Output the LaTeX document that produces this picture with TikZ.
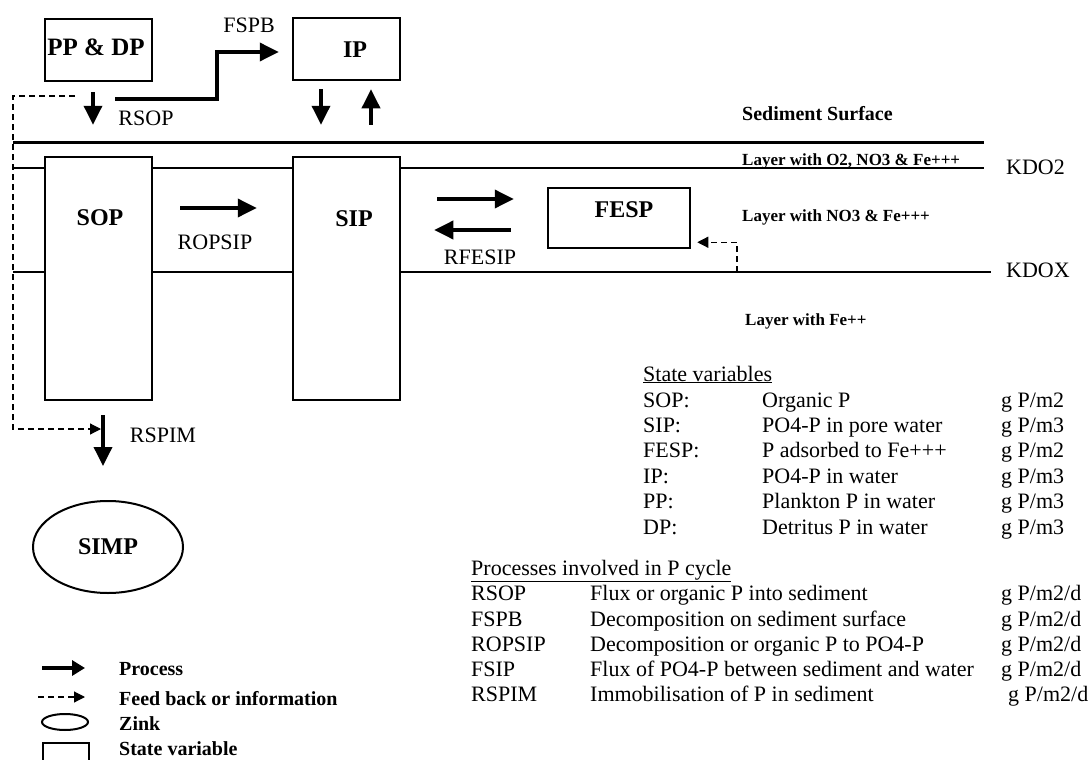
\documentclass[tikz,border=0pt]{standalone}
\usepackage{fontspec}
\setmainfont{Liberation Serif}
\usetikzlibrary{arrows.meta, positioning, calc, shapes.geometric}

\newcommand{\fsz}[1]{\fontsize{#1}{#1}\selectfont}
\newcommand{\pcrow}[5]{\makebox[#1][l]{#3}\makebox[#2][l]{#4}#5}

\begin{document}
\begin{tikzpicture}[x=1pt, y=-1pt,
    statebox/.style={draw, line width=2.5pt, fill=white, inner sep=0pt},
    boxlbl/.style={font=\bfseries\fsz{24}},
    proc/.style={-{Triangle[length=19pt,width=18pt]}, line width=3.6pt},
    fdbk/.style={-{Triangle[length=11pt,width=11pt]}, line width=1.2pt,
                 dash pattern=on 6pt off 4pt},
    arrlbl/.style={font=\fsz{22}, inner sep=0pt},
    layerlbl/.style={anchor=base west, font=\bfseries\fsz{17}, inner sep=0pt},
    tabrow/.style={anchor=base west, font=\fsz{22}, inner sep=0pt},
    legtxt/.style={anchor=base west, font=\bfseries\fsz{20}, inner sep=0pt}]
        \fill[white] (0,0) rectangle (1090,760);
        \useasboundingbox (0,0) rectangle (1090,760);
        % layer boundaries
        \draw[line width=3pt] (13,142) -- (984,142);
        \draw[line width=1.4pt] (13,168) -- (984,168);
        \draw[line width=1.4pt] (13,272) -- (991,272);
        \node[arrlbl, anchor=west] (kdo2) at (1006,167) {KDO2};
        \node[arrlbl, anchor=west] (kdox) at (1006,270) {KDOX};
        \node[layerlbl, font=\bfseries\fsz{20}] (surf) at (742,120) {Sediment Surface};
        \node[layerlbl] (lay1) at (742,165) {Layer with O2, NO3 \& Fe+++};
        \node[layerlbl] (lay2) at (742,221) {Layer with NO3 \& Fe+++};
        \node[layerlbl] (lay3) at (745,325) {Layer with Fe++};
        % state variables
        \node[statebox, minimum width=107pt, minimum height=62pt] (ppdp) at (98.5,50) {};
        \node[boxlbl, font=\bfseries\fsz{25}] (ppdplbl) at (96,47) {PP \& DP};
        \node[statebox, minimum width=107pt, minimum height=62pt] (ip) at (346.5,49) {};
        \node[boxlbl] (iplbl) at (355,50) {IP};
        \node[statebox, minimum width=107pt, minimum height=243pt] (sop) at (98.5,278.5) {};
        \node[boxlbl] (soplbl) at (100,218) {SOP};
        \node[statebox, minimum width=107pt, minimum height=243pt] (sip) at (346.5,278.5) {};
        \node[boxlbl] (siplbl) at (354,219) {SIP};
        \node[statebox, minimum width=142pt, minimum height=60pt] (fesp) at (619,218) {};
        \node[boxlbl] (fesplbl) at (624,210) {FESP};
        \node[draw, ellipse, line width=2pt, minimum width=150pt, minimum height=92pt,
              inner sep=0pt, font=\bfseries\fsz{24}] (simp) at (108,547) {SIMP};
        % RSOP and FSPB
        \draw[proc, shorten <=10pt, shorten >=31pt] ([xshift=-5.5pt]ppdp.south)
              -- ([xshift=-5.5pt]ppdp.south |- sop.north);
        \node[arrlbl] (rsoplbl) at (146,118) {RSOP};
        \coordinate (fspbstart) at (115,99);
        \draw[proc, shorten >=13pt] (fspbstart) -- (217,99) |- ([yshift=-3pt]ip.west);
        \node[arrlbl] (fspblbl) at (249,25) {FSPB};
        % exchange with the water
        \draw[proc, shorten <=8pt, shorten >=31pt] ([xshift=-25.5pt]ip.south)
              -- ([xshift=-25.5pt]ip.south |- sip.north);
        \draw[proc, shorten <=31pt, shorten >=8pt] ([xshift=24.5pt]ip.south |- sip.north)
              -- ([xshift=24.5pt]ip.south);
        % ROPSIP
        \draw[proc, shorten <=27pt, shorten >=35pt] ([yshift=70.5pt]sop.east)
              -- ([yshift=70.5pt]sop.east -| sip.west);
        \node[arrlbl] (ropsiplbl) at (215,242) {ROPSIP};
        % RFESIP
        \draw[proc, shorten <=36pt, shorten >=33pt] ([yshift=79.5pt]sip.east)
              -- ([yshift=79.5pt]sip.east -| fesp.west);
        \draw[proc, shorten <=36pt, shorten >=33pt] ([yshift=48.5pt]sip.east -| fesp.west)
              -- ([yshift=48.5pt]sip.east);
        \node[arrlbl] (rfesiplbl) at (480,257) {RFESIP};
        % feed back
        \coordinate (kdoxfb) at (737,272);
        \draw[fdbk, shorten >=6pt] (kdoxfb) |- ($(fesp.south east)+(0,-7)$);
        % RSPIM
        \draw[proc, shorten <=14pt, shorten >=34pt] ([xshift=4.5pt]sop.south)
              -- ([xshift=4.5pt]sop.south |- simp.north);
        \node[arrlbl] (rspimlbl) at (163,435) {RSPIM};
        \coordinate (fbtop) at (75,96);
        \coordinate (rspimin) at (101,429);
        \draw[fdbk] (fbtop) -- (13,96) |- (rspimin);
        % tables
        \node[tabrow] (svhead) at (643,381) {\underline{State variables}};
        \node[tabrow] (sv1) at (643,407) {\pcrow{119pt}{239pt}{SOP:}{Organic P}{g P/m2}};
        \node[tabrow] (sv2) at (643,432) {\pcrow{119pt}{239pt}{SIP:}{PO4-P in pore water}{g P/m3}};
        \node[tabrow] (sv3) at (643,457) {\pcrow{119pt}{239pt}{FESP:}{P adsorbed to Fe+++}{g P/m2}};
        \node[tabrow] (sv4) at (643,483) {\pcrow{119pt}{239pt}{IP:}{PO4-P in water}{g P/m3}};
        \node[tabrow] (sv5) at (643,508) {\pcrow{119pt}{239pt}{PP:}{Plankton P in water}{g P/m3}};
        \node[tabrow] (sv6) at (643,534) {\pcrow{119pt}{239pt}{DP:}{Detritus P in water}{g P/m3}};
        \node[tabrow] (pchead) at (471,575) {\underline{Processes involved in P cycle}};
        \node[tabrow] (pc1) at (471,600) {\pcrow{119pt}{411pt}{RSOP}{Flux or organic P into sediment}{g P/m2/d}};
        \node[tabrow] (pc2) at (471,626) {\pcrow{119pt}{411pt}{FSPB}{Decomposition on sediment surface}{g P/m2/d}};
        \node[tabrow] (pc3) at (471,651) {\pcrow{119pt}{411pt}{ROPSIP}{Decomposition or organic P to PO4-P}{g P/m2/d}};
        \node[tabrow] (pc4) at (471,676) {\pcrow{119pt}{411pt}{FSIP}{Flux of PO4-P between sediment and water}{g P/m2/d}};
        \node[tabrow] (pc5) at (471,701) {\pcrow{119pt}{418pt}{RSPIM}{Immobilisation of P in sediment}{g P/m2/d}};
        % legend
        \coordinate (lgp0) at (42,668);
        \coordinate (lgp1) at (85,668);
        \draw[proc, -{Triangle[length=13pt,width=15pt]}] (lgp0) -- (lgp1);
        \coordinate (lgf0) at (38,697);
        \coordinate (lgf1) at (85,697);
        \draw[fdbk] (lgf0) -- (lgf1);
        \node[draw, ellipse, line width=2pt, minimum width=46pt, minimum height=16pt,
              inner sep=0pt] (lgzink) at (65,722) {};
        \node[draw, line width=2pt, minimum width=46pt, minimum height=40pt,
              inner sep=0pt] (lgbox) at (66,763) {};
        \node[legtxt] (lgt1) at (119,675) {Process};
        \node[legtxt] (lgt2) at (119,705) {Feed back or information};
        \node[legtxt] (lgt3) at (119,730) {Zink};
        \node[legtxt] (lgt4) at (119,755) {State variable};
      \end{tikzpicture}
\end{document}
